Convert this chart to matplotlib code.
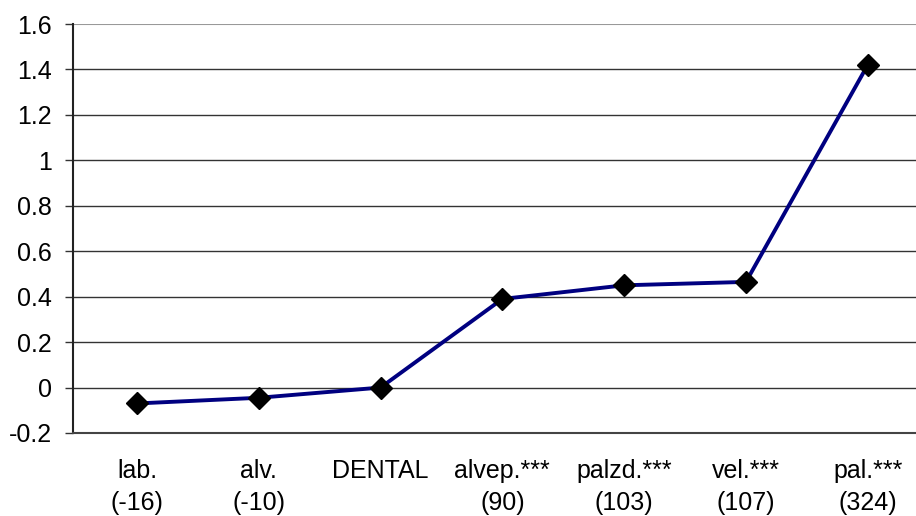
import numpy as np
import matplotlib
matplotlib.use('Agg')
from matplotlib import pyplot as plt

plt.rcParams['font.family'] = ['Liberation Sans', 'DejaVu Sans']
plt.rcParams['axes.unicode_minus'] = False

# 데이터
labels = ['lab.', 'alv.', 'DENTAL', 'alvep.***', 'palzd.***', 'vel.***', 'pal.***']
counts = ['(-16)', '(-10)', '', '(90)', '(103)', '(107)', '(324)']
values = [-0.07, -0.045, 0.0, 0.39, 0.45, 0.465, 1.42]
yticks = [-0.2, 0, 0.2, 0.4, 0.6, 0.8, 1, 1.2, 1.4, 1.6]

xlabels = [l + '\n' + c for l, c in zip(labels, counts)]
x = np.arange(len(labels))

fig = plt.figure(figsize=(9.16, 5.16), dpi=100)
ax = fig.add_axes([73 / 916, 83 / 516, (916 - 73) / 916, (433 - 24) / 516])

# 격자선
for t in yticks[1:-1]:
    ax.axhline(t, color='#333333', linewidth=1.0, zorder=1)
ax.axhline(1.6, color='#999999', linewidth=1.5, zorder=1)

ax.plot(x, values, color='#000080', linewidth=2.8, marker='D', markersize=11.5,
        markerfacecolor='black', markeredgecolor='black', zorder=3, clip_on=False)

ax.set_xlim(-0.525, 6.396)
ax.set_ylim(-0.2, 1.6)
ax.set_yticks(yticks)
ax.set_yticklabels(['{:g}'.format(t) for t in yticks])
ax.set_xticks(x)
ax.set_xticklabels(xlabels, linespacing=1.42)

ax.tick_params(axis='y', labelsize=18, length=6, width=1, pad=9, color='#333333')
ax.tick_params(axis='x', labelsize=18, length=0, pad=19)

for s in ['top', 'right']:
    ax.spines[s].set_visible(False)
ax.spines['left'].set_color('#222222')
ax.spines['left'].set_linewidth(1.5)
ax.spines['bottom'].set_color('#444444')
ax.spines['bottom'].set_linewidth(1.5)

fig.savefig('out.png', dpi=100)
